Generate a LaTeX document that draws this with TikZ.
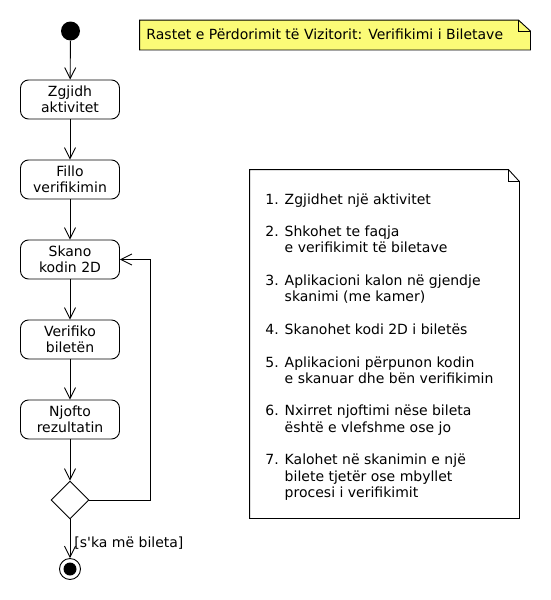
\documentclass[tikz,border=0pt]{standalone}
\usepackage{fontspec}
\setmainfont{DejaVu Sans}[Ligatures=TeXOff]
\usetikzlibrary{arrows.meta,shapes.geometric}
\definecolor{notefill}{HTML}{FBFB77}
\tikzset{
  txt/.style={font=\fontsize{14}{16.3}\selectfont},
  act/.style={txt, draw, rectangle, rounded corners=8pt, minimum width=99pt, minimum height=39pt, align=center, inner sep=0pt},
  flow/.style={draw, -{Straight Barb[length=11pt,width=11pt]}},
  notebody/.style={draw, line width=0.9pt},
}
\begin{document}
\begin{tikzpicture}[x=1pt,y=-1pt,line width=0.9pt]
\useasboundingbox (0,0) rectangle (550,600);
% start
\node[circle, fill=black, minimum size=19pt, inner sep=0pt] (start) at (70.5,31) {};
% actions
\node[act] (a1) at (70,99.5) {Zgjidh\\aktivitet};
\node[act] (a2) at (70,179.5) {Fillo\\verifikimin};
\node[act] (a3) at (70,259.5) {Skano\\kodin 2D};
\node[act] (a4) at (70,339.5) {Verifiko\\biletën};
\node[act] (a5) at (70,419.5) {Njofto\\rezultatin};
\node[diamond, draw, minimum width=38pt, minimum height=38pt, inner sep=0pt] (d) at (70,500) {};
\node[circle, draw, minimum size=21pt, inner sep=0pt] (stop) at (70,569) {};
\node[circle, fill=black, minimum size=13pt, inner sep=0pt] (stopin) at (70,569) {};
% edges
\draw[flow] (start) -- (a1);
\draw[flow] (a1) -- (a2);
\draw[flow] (a2) -- (a3);
\draw[flow] (a3) -- (a4);
\draw[flow] (a4) -- (a5);
\draw[flow] (a5) -- (d);
\draw[flow] (d) -- (stop);
\coordinate (loopc) at (150,500);
\draw[flow] (d.east) -- (loopc) |- (a3.east);
\node[txt, anchor=west, inner sep=0pt] (lbl) at (74,543) {[s'ka më bileta]};
% note 1
\node[minimum width=390pt, minimum height=29pt, inner sep=0pt] (n1) at (335,35) {};
\draw[notebody, fill=notefill] (n1.north west) -- ([xshift=-12pt]n1.north east) -- ([yshift=-11pt]n1.north east) -- (n1.south east) -- (n1.south west) -- cycle;
\draw[notebody] ([xshift=-12pt]n1.north east) -- ([xshift=-12pt,yshift=-11pt]n1.north east) -- ([yshift=-11pt]n1.north east);
\node[txt, anchor=west, inner sep=0pt] (n1t) at (146,34.5) {Rastet e Përdorimit të Vizitorit: Verifikimi i Biletave};
% note 2
\node[minimum width=269pt, minimum height=348pt, inner sep=0pt] (n2) at (384.5,344) {};
\draw[notebody, fill=white] (n2.north west) -- ([xshift=-11pt]n2.north east) -- ([yshift=-12pt]n2.north east) -- (n2.south east) -- (n2.south west) -- cycle;
\draw[notebody] ([xshift=-11pt]n2.north east) -- ([xshift=-11pt,yshift=-12pt]n2.north east) -- ([yshift=-12pt]n2.north east);
\node[txt, anchor=north west, align=left, inner sep=0pt] (n2t) at (265,193) {%
1. Zgjidhet një aktivitet\\[16.3pt]
2. Shkohet te faqja\\
\phantom{1. }e verifikimit të biletave\\[16.3pt]
3. Aplikacioni kalon në gjendje\\
\phantom{1. }skanimi (me kamer)\\[16.3pt]
4. Skanohet kodi 2D i biletës\\[16.3pt]
5. Aplikacioni përpunon kodin\\
\phantom{1. }e skanuar dhe bën verifikimin\\[16.3pt]
6. Nxirret njoftimi nëse bileta\\
\phantom{1. }është e vlefshme ose jo\\[16.3pt]
7. Kalohet në skanimin e një\\
\phantom{1. }bilete tjetër ose mbyllet\\
\phantom{1. }procesi i verifikimit};
\end{tikzpicture}
\end{document}
